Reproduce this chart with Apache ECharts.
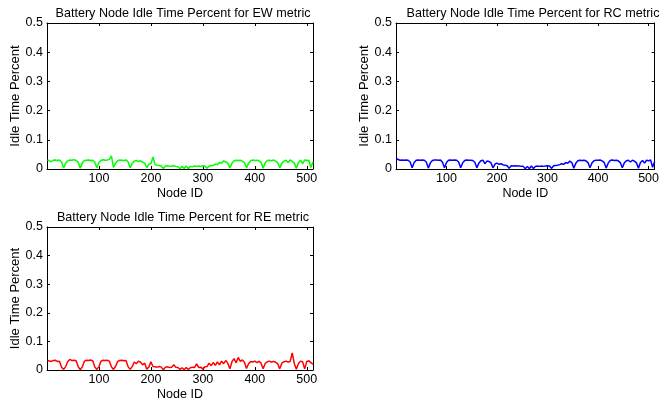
<!DOCTYPE html>
<html>
<head>
<meta charset="utf-8">
<script src="https://cdn.jsdelivr.net/npm/echarts@6/dist/echarts.min.js"></script>
<style>
html, body { margin: 0; padding: 0; background: #fff; }
#chart { width: 662px; height: 402px; }
</style>
</head>
<body>
<div id="chart"></div>
<script>
// node ids sampled along the x axis (node 1, then every 4th node)
var nodeIds = [1];
for (var i = 1; i <= 128; i++) nodeIds.push(i * 4);

// idle time percent
var ewIdle = [0.031,
  0.032, 0.025, 0.030, 0.031, 0.029, 0.031, 0.024, 0.004,
  0.020, 0.028, 0.031, 0.030, 0.032, 0.029, 0.023, 0.003,
  0.021, 0.029, 0.030, 0.031, 0.029, 0.030, 0.024, 0.004,
  0.022, 0.030, 0.032, 0.030, 0.031, 0.033, 0.045, 0.005,
  0.020, 0.028, 0.031, 0.030, 0.029, 0.031, 0.025, 0.004,
  0.019, 0.027, 0.029, 0.026, 0.028, 0.024, 0.020, 0.005,
  0.016, 0.019, 0.041, 0.015, 0.013, 0.012, 0.010, 0.002,
  0.010, 0.011, 0.009, 0.010, 0.011, 0.009, 0.008, 0.001,
  0.009, 0.002, 0.010, 0.001, 0.009, 0.008, 0.010, 0.009,
  0.010, 0.009, 0.011, 0.010, 0.003, 0.010, 0.011, 0.012,
  0.017, 0.015, 0.022, 0.020, 0.028, 0.024, 0.020, 0.004,
  0.020, 0.028, 0.030, 0.029, 0.030, 0.027, 0.022, 0.004,
  0.020, 0.028, 0.031, 0.029, 0.030, 0.028, 0.023, 0.003,
  0.021, 0.029, 0.030, 0.028, 0.031, 0.027, 0.022, 0.004,
  0.020, 0.027, 0.030, 0.022, 0.031, 0.026, 0.020, 0.003,
  0.022, 0.030, 0.018, 0.031, 0.029, 0.030, 0.005, 0.025];

var rcIdle = [0.035,
  0.033, 0.030, 0.031, 0.030, 0.031, 0.030, 0.024, 0.004,
  0.022, 0.030, 0.031, 0.030, 0.031, 0.030, 0.024, 0.003,
  0.021, 0.029, 0.031, 0.031, 0.030, 0.031, 0.023, 0.004,
  0.022, 0.030, 0.031, 0.030, 0.031, 0.030, 0.024, 0.004,
  0.021, 0.029, 0.031, 0.030, 0.030, 0.029, 0.023, 0.004,
  0.020, 0.028, 0.030, 0.018, 0.027, 0.026, 0.021, 0.004,
  0.017, 0.020, 0.016, 0.018, 0.014, 0.013, 0.011, 0.002,
  0.011, 0.010, 0.011, 0.010, 0.010, 0.009, 0.009, 0.001,
  0.009, 0.001, 0.010, 0.002, 0.009, 0.010, 0.009, 0.010,
  0.009, 0.010, 0.011, 0.010, 0.002, 0.011, 0.012, 0.013,
  0.015, 0.018, 0.016, 0.022, 0.020, 0.027, 0.022, 0.003,
  0.020, 0.028, 0.030, 0.029, 0.030, 0.028, 0.022, 0.004,
  0.021, 0.028, 0.030, 0.030, 0.031, 0.028, 0.023, 0.003,
  0.020, 0.029, 0.031, 0.029, 0.030, 0.028, 0.022, 0.004,
  0.021, 0.028, 0.030, 0.024, 0.030, 0.027, 0.021, 0.003,
  0.022, 0.029, 0.020, 0.030, 0.028, 0.031, 0.006, 0.026];

var reIdle = [0.033,
  0.032, 0.030, 0.033, 0.034, 0.030, 0.031, 0.010, 0.002,
  0.012, 0.030, 0.037, 0.033, 0.034, 0.032, 0.012, 0.001,
  0.011, 0.031, 0.034, 0.033, 0.035, 0.032, 0.011, 0.002,
  0.012, 0.031, 0.034, 0.033, 0.034, 0.031, 0.011, 0.002,
  0.013, 0.030, 0.033, 0.034, 0.032, 0.033, 0.012, 0.002,
  0.012, 0.028, 0.022, 0.031, 0.027, 0.018, 0.024, 0.003,
  0.010, 0.029, 0.012, 0.011, 0.010, 0.012, 0.010, 0.001,
  0.010, 0.011, 0.009, 0.010, 0.018, 0.010, 0.009, 0.002,
  0.008, 0.001, 0.009, 0.002, 0.008, 0.010, 0.009, 0.021,
  0.009, 0.010, 0.003, 0.011, 0.012, 0.024, 0.015, 0.026,
  0.016, 0.028, 0.018, 0.031, 0.022, 0.033, 0.024, 0.004,
  0.029, 0.040, 0.025, 0.044, 0.030, 0.035, 0.027, 0.005,
  0.022, 0.030, 0.028, 0.031, 0.026, 0.030, 0.024, 0.004,
  0.023, 0.029, 0.031, 0.028, 0.030, 0.027, 0.022, 0.004,
  0.024, 0.029, 0.031, 0.028, 0.030, 0.060, 0.022, 0.003,
  0.023, 0.031, 0.029, 0.004, 0.030, 0.032, 0.026, 0.020];

var xTicks = [100, 200, 300, 400, 500];
var yTicks = ['0', '0.1', '0.2', '0.3', '0.4', '0.5'];

var panels = [
  { name: 'EW', data: ewIdle, color: '#00ff00', left: 47, top: 23, titleX: 178, titleY: 2 },
  { name: 'RC', data: rcIdle, color: '#0000ff', left: 396, top: 23, titleX: 528, titleY: 2 },
  { name: 'RE', data: reIdle, color: '#ff0000', left: 47, top: 227, titleX: 178, titleY: 206 }
];

var font = 'Liberation Sans, Arial, Helvetica, sans-serif';
var black = '#000';

var option = {
  animation: false,
  backgroundColor: '#fff',
  title: [], grid: [], xAxis: [], yAxis: [], series: []
};

panels.forEach(function (p, k) {
  option.title.push({
    text: 'Battery Node Idle Time Percent for ' + p.name + ' metric',
    left: p.titleX, top: p.titleY, textAlign: 'center',
    textStyle: { fontFamily: font, fontSize: 12.6, fontWeight: 'normal', color: black }
  });
  option.grid.push({ left: p.left, top: p.top, width: 266, height: 146 });

  var xBase = { gridIndex: k, type: 'value', min: 0, max: 512, interval: 100,
    splitLine: { show: false },
    axisLine: { show: true, onZero: false, lineStyle: { color: black, width: 1 } },
    axisTick: { show: true, inside: true, length: 3, lineStyle: { color: black } } };
  option.xAxis.push(Object.assign({}, xBase, {
    position: 'bottom',
    name: 'Node ID', nameLocation: 'middle', nameGap: 18,
    nameTextStyle: { fontFamily: font, fontSize: 12.5, color: black },
    axisLabel: { fontFamily: font, fontSize: 12.5, color: black, margin: 3,
      showMinLabel: false, showMaxLabel: false,
      formatter: function (v) { return xTicks.indexOf(v) >= 0 ? String(v) : ''; } }
  }));
  option.xAxis.push(Object.assign({}, xBase, { position: 'top', axisLabel: { show: false } }));

  var yBase = { gridIndex: k, type: 'value', min: 0, max: 0.5, interval: 0.1,
    splitLine: { show: false },
    axisLine: { show: true, onZero: false, lineStyle: { color: black, width: 1 } },
    axisTick: { show: true, inside: true, length: 3, lineStyle: { color: black } } };
  option.yAxis.push(Object.assign({}, yBase, {
    position: 'left',
    name: 'Idle Time Percent', nameLocation: 'middle', nameGap: 21,
    nameTextStyle: { fontFamily: font, fontSize: 13, color: black },
    axisLabel: { fontFamily: font, fontSize: 12.5, color: black, margin: 4,
      formatter: function (v) { return yTicks[Math.round(v * 10)]; } }
  }));
  option.yAxis.push(Object.assign({}, yBase, { position: 'right', axisLabel: { show: false } }));

  option.series.push({
    type: 'line', xAxisIndex: 2 * k, yAxisIndex: 2 * k,
    data: p.data.map(function (v, i) { return [nodeIds[i], v]; }),
    showSymbol: false, symbol: 'none',
    lineStyle: { color: p.color, width: 1.5 },
    itemStyle: { color: p.color }
  });
});

var chart = echarts.init(document.getElementById('chart'));
chart.setOption(option);
</script>
</body>
</html>
